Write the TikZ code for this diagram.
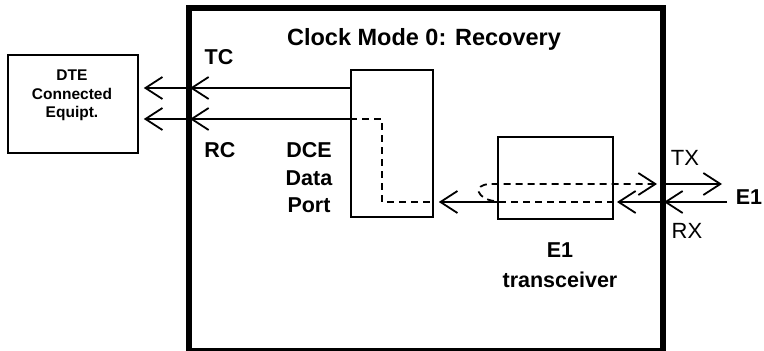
\documentclass[tikz,border=0pt]{standalone}
\usepackage{fontspec}
\setmainfont{Liberation Sans}
\usetikzlibrary{arrows.meta}
\begin{document}
\begin{tikzpicture}[x=1pt,y=-1pt,
  thin/.style={line width=1.8pt},
  box/.style={draw, line width=1.8pt, inner sep=0pt, anchor=north west},
  framebox/.style={draw, line width=5.5pt, inner sep=0pt, anchor=north west},
  dashline/.style={line width=1.8pt, dash pattern=on 7pt off 5pt},
  barb/.style={-{Straight Barb[length=17pt,width=22pt]}},
  blbl/.style={font=\bfseries\fontsize{21.5}{27.5}\selectfont, inner sep=0pt},
  rlbl/.style={font=\fontsize{22}{26}\selectfont, inner sep=0pt},
]
\useasboundingbox (0,0) rectangle (764,351);
% boxes
\node[framebox, minimum width=474pt, minimum height=343pt] (frame) at (186,5) {};
\node[box, minimum width=130pt, minimum height=98pt] (dte) at (7,54) {};
\node[box, minimum width=82pt, minimum height=147pt] (dce) at (350,69) {};
\node[box, minimum width=115pt, minimum height=82pt] (e1) at (497,136) {};
% texts
\node[font=\bfseries\fontsize{15.5}{18.5}\selectfont, align=center, inner sep=0pt] (dtetext) at (72,95.5) {DTE\\Connected\\Equipt.};
\node[font=\bfseries\fontsize{23.5}{27}\selectfont, inner sep=0pt, anchor=base] (title) at (424,45) {Clock Mode 0: Recovery};
\node[blbl, anchor=base] (tc) at (219,64) {TC};
\node[blbl, anchor=base] (rc) at (220,157) {RC};
\node[blbl, align=center] (dcetext) at (309,178) {DCE\\Data\\Port};
\node[blbl, anchor=base] (e1a) at (560,257) {E1};
\node[blbl, anchor=base] (e1b) at (560,287) {transceiver};
\node[rlbl, anchor=base] (tx) at (685,165) {TX};
\node[rlbl, anchor=base] (rx) at (687,238) {RX};
\node[blbl, anchor=base] (e1r) at (749,204) {E1};
% coordinates
\coordinate (tcF) at (190,88);
\coordinate (rcF) at (190,119);
\coordinate (dbend) at (382,202);
\coordinate (rxIn) at (617,202);
\coordinate (rxF) at (664,202);
\coordinate (rxEnd) at (727,202);
\coordinate (loopA) at (494,201);
\coordinate (loopB) at (490,184);
\coordinate (txF) at (657,184);
\coordinate (txEnd) at (722,184);
% TC / RC
\draw[thin, barb] (dce.west |- tcF) -- (tcF);
\draw[thin, barb, shorten >=5pt] (tcF) -- (dte.east |- tcF);
\draw[thin, barb] (dce.west |- rcF) -- (rcF);
\draw[thin, barb, shorten >=5pt] (rcF) -- (dte.east |- rcF);
\draw[dashline] (dce.west |- rcF) -| (dbend) -- (dce.east |- dbend);
% RX path
\draw[thin, barb] (rxEnd) -- (rxF);
\draw[thin, barb] (rxF) -- (rxIn);
\draw[dashline] (e1.east |- rxIn) -- (e1.west |- rxIn);
\draw[thin, barb, shorten >=5pt] (e1.west |- rxIn) -- (dce.east |- rxIn);
% loop and TX
\draw[dashline, barb] (loopA) .. controls (478,199) and (471,185) .. (loopB) -- (txF);
\draw[thin, barb] (frame.east |- txF) -- (txEnd);
\end{tikzpicture}
\end{document}
